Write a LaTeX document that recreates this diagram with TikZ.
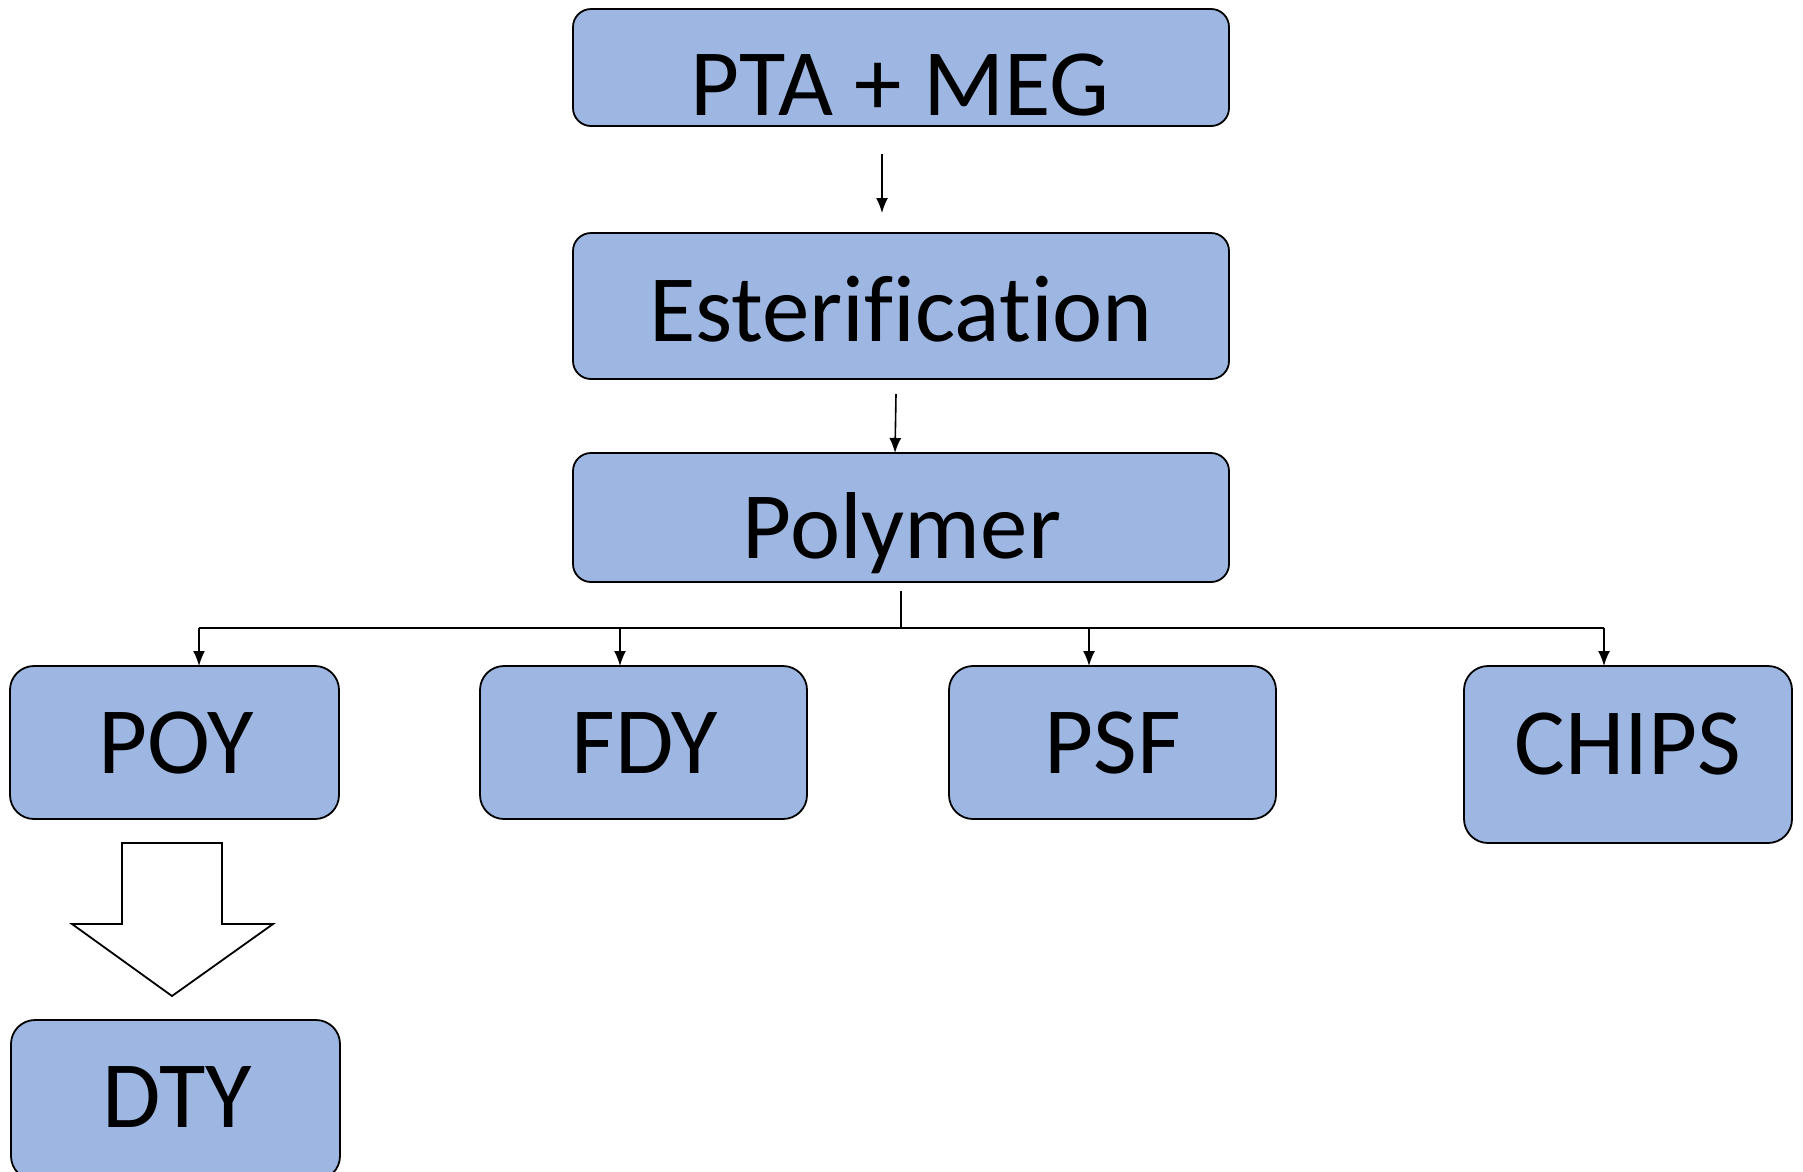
\documentclass[tikz,border=0pt]{standalone}
\usepackage{fontspec}
\setmainfont{Carlito}[Ligatures={NoCommon,NoRare,NoContextual}]
\usetikzlibrary{arrows.meta}
\definecolor{boxblue}{RGB}{157,183,226}
\begin{document}
\begin{tikzpicture}[x=1pt,y=-1pt,
  box/.style={draw=black,line width=1.8pt,fill=boxblue,rounded corners=#1,inner sep=0pt},
  box/.default=18pt,
  lbl/.style={anchor=base,inner sep=0pt,font=\fontsize{95}{100}\selectfont},
  conn/.style={line width=1.6pt,-{Latex[length=15pt,width=12pt]}}]
\useasboundingbox (0,0) rectangle (1803,1171);
% boxes
\node[box, minimum width=656pt, minimum height=117pt] (pta) at (901,67.5) {};
\node[box, minimum width=656pt, minimum height=146pt] (est) at (901,306) {};
\node[box, minimum width=656pt, minimum height=129pt] (pol) at (901,517.5) {};
\node[box=24pt, minimum width=329pt, minimum height=153pt] (poy) at (174.5,742.5) {};
\node[box=24pt, minimum width=327pt, minimum height=153pt] (fdy) at (643.5,742.5) {};
\node[box=24pt, minimum width=327pt, minimum height=153pt] (psf) at (1112.5,742.5) {};
\node[box=24pt, minimum width=328pt, minimum height=177pt] (chips) at (1628,754.5) {};
\node[box=24pt, minimum width=329pt, minimum height=160pt] (dty) at (175.5,1100) {};
% labels
\node[lbl] (tpta) at (900,115) {PTA + MEG};
\node[lbl] (test) at (901,341.5) {Esterification};
\node[lbl] (tpol) at (902,558) {Polymer};
\node[lbl] (tpoy) at (176,773) {POY};
\node[lbl] (tfdy) at (645,773) {FDY};
\node[lbl] (tpsf) at (1113,773) {PSF};
\node[lbl] (tchips) at (1628,774) {CHIPS};
\node[lbl] (tdty) at (177,1127) {DTY};
% connectors
\coordinate (a1s) at (882,154);
\coordinate (a1e) at (882,213);
\draw[conn] (a1s) -- (a1e);
\coordinate (a2s) at (896,394);
\coordinate (a2e) at (895,453);
\draw[conn] (a2s) -- (a2e);
\coordinate (stem) at (901,591);
\coordinate (hub) at (901,628);
\draw[line width=1.6pt] (stem) -- (hub);
\draw[line width=1.8pt] (199,628) -- (1604,628);
\draw[conn] (199,628) -- (199,666);
\draw[conn] (620,628) -- (620,666);
\draw[conn] (1089,628) -- (1089,666);
\draw[conn] (1604,628) -- (1604,666);
% block arrow
\draw[line width=1.8pt,fill=white,line join=miter]
  (122,843) -- (222,843) -- (222,924) -- (273,924) -- (172,996) -- (72,924) -- (122,924) -- cycle;
\end{tikzpicture}
\end{document}
